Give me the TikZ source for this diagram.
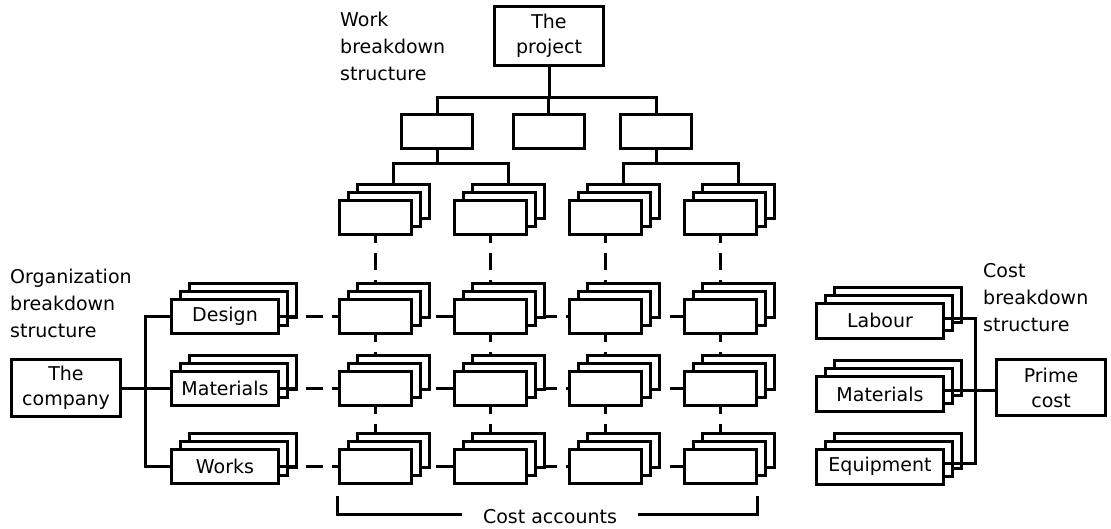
\documentclass[tikz,border=0pt]{standalone}
\usepackage{fontspec}
\setmainfont{DejaVu Sans}
\pgfdeclarelayer{bottom}
\pgfdeclarelayer{middle}
\pgfsetlayers{bottom,middle,main}
\newcommand\cardstack[5]{%
  \node[#1] (#2b) at (#3+18,#4-16) {};
  \node[#1] (#2m) at (#3+9,#4-8) {};
  \node[#1] (#2) at (#3,#4) {#5};}
\begin{document}
\begin{tikzpicture}[x=1pt,y=-1pt,
  card/.style={draw, fill=white, inner sep=0pt, line width=3pt, font=\fontsize{19}{25}\selectfont},
  wcard/.style={card, minimum width=72pt, minimum height=34pt},
  ocard/.style={card, minimum width=107pt, minimum height=34pt},
  ccard/.style={card, minimum width=127pt, minimum height=35pt},
  bigbox/.style={card, align=center, minimum width=109pt},
  lbl/.style={align=left, inner sep=0pt, font=\fontsize{19}{27}\selectfont, anchor=base west},
  conn/.style={draw, line width=3pt},
  hdash/.style={conn, dash pattern=on 17pt off 9pt},
  vdash/.style={conn, dash pattern=on 17pt off 10pt, dash phase=10pt}]
\useasboundingbox (0,0) rectangle (1111,528);

% labels (anchored at the baseline of the last line)
\node[lbl] (wbsl) at (340,80) {Work\\breakdown\\structure};
\node[lbl] (obsl) at (10,337) {Organization\\breakdown\\structure};
\node[lbl] (cbsl) at (983,331) {Cost\\breakdown\\structure};

% WBS top
\node[bigbox, minimum height=59pt] (proj) at (549,36) {The\\project};
\node[wcard, minimum width=71pt] (a1) at (437,131.5) {};
\node[wcard, minimum width=71pt] (a2) at (548.5,131.5) {};
\node[wcard, minimum width=71pt] (a3) at (656,131.5) {};
\coordinate (bar) at (549,97);
\coordinate (bar2) at (549,163);

% organization
\node[bigbox, minimum height=57pt] (comp) at (66,388) {The\\company};
\begin{pgfonlayer}{bottom}
\cardstack{ocard}{od}{225}{316}{Design}
\cardstack{ocard}{om}{225}{388}{Materials}
\cardstack{ocard}{ow}{225}{466.5}{Works}
\end{pgfonlayer}
\coordinate (ojoin) at (145,388);

% WBS stacks
\foreach \cx [count=\c] in {375,490,605,720}{
  \cardstack{wcard}{w0\c}{\cx}{217.5}{}
  \cardstack{wcard}{w1\c}{\cx}{316}{}
  \cardstack{wcard}{w2\c}{\cx}{388}{}
  \cardstack{wcard}{w3\c}{\cx}{466.5}{}
}

% cost
\cardstack{ccard}{cl}{880}{320.5}{Labour}
\cardstack{ccard}{cm}{880}{394}{Materials}
\cardstack{ccard}{ce}{880}{466.5}{Equipment}
\node[bigbox, minimum height=56pt] (pc) at (1051,387.5) {Prime\\cost};
\coordinate (cjoin) at (975,389);

% WBS tree
\path[conn] (proj.south) -- (proj.south |- bar);
\path[conn] (a1.north) -- (a1.north |- bar) -| (a3.north);
\path[conn] (a2.north) -- (a2.north |- bar);
\path[conn] (a1.south) -- (a1.south |- bar2);
\path[conn] (a3.south) -- (a3.south |- bar2);
\path[conn] (w01b.north) -- (w01b.north |- bar2) -| (w02b.north);
\path[conn] (w03b.north) -- (w03b.north |- bar2) -| (w04b.north);

% dashed grid
\begin{pgfonlayer}{middle}
\path[hdash] (od.east) -- (w14.west);
\path[hdash] (om.east) -- (w24.west);
\path[hdash] (ow.east) -- (w34.west);
\foreach \c in {1,...,4}{
  \path[vdash] (w0\c.south) -- (w0\c.south |- w1\c b.north);
  \path[vdash] (w1\c.south) -- (w1\c.south |- w2\c b.north);
  \path[vdash] (w2\c.south) -- (w2\c.south |- w3\c b.north);
}
\end{pgfonlayer}

% organization tree
\path[conn] (comp.east) -- (om.west);
\path[conn] (od.west) -| (ojoin) |- (ow.west);

% cost tree
\path[conn] ([yshift=2pt]cl.east) -| (cjoin) |- ([yshift=3pt]ce.east);
\path[conn] ([yshift=4pt]cm.east) -- ([yshift=4pt]cm.east -| pc.west);

% cost accounts
\node[inner sep=0pt, inner xsep=21pt, font=\fontsize{19}{25}\selectfont, anchor=base] (ca) at (550,523) {Cost accounts};
\path[conn] ([yshift=2pt]ca.west) -- ([yshift=2pt]ca.west -| w31.west) -- ++(0,-18);
\path[conn] ([yshift=2pt]ca.east) -- ([yshift=2pt]ca.east -| w34.east) -- ++(0,-18);
\end{tikzpicture}
\end{document}
